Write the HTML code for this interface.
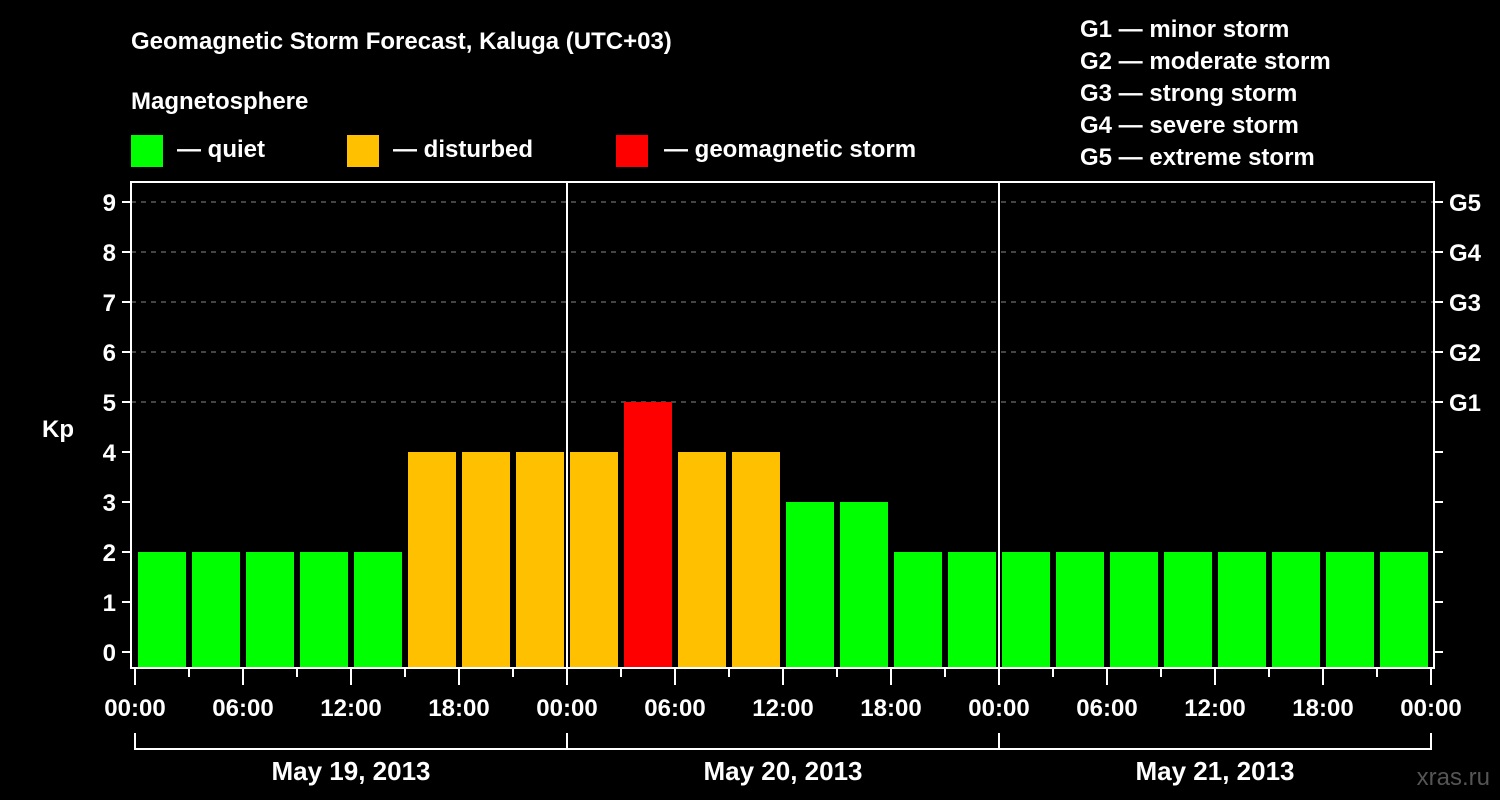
<!DOCTYPE html>
<html><head><meta charset="utf-8"><style>
html,body{margin:0;padding:0;background:#000;}
svg{display:block;font-family:"Liberation Sans",sans-serif;font-weight:bold;}
</style></head><body>
<svg id="c" width="1500" height="800" viewBox="0 0 1500 800">
<rect width="1500" height="800" fill="#000"/>
<text x="131" y="49" fill="#fff" font-size="24">Geomagnetic Storm Forecast, Kaluga (UTC+03)</text>
<text x="131" y="109" fill="#fff" font-size="24">Magnetosphere</text>
<g><rect x="131" y="135" width="32" height="32" fill="#00ff00"/><text x="177" y="157" fill="#fff" font-size="24">— quiet</text></g>
<g><rect x="347" y="135" width="32" height="32" fill="#ffc000"/><text x="393" y="157" fill="#fff" font-size="24">— disturbed</text></g>
<g><rect x="616" y="135" width="32" height="32" fill="#ff0000"/><text x="664" y="157" fill="#fff" font-size="24">— geomagnetic storm</text></g>
<g fill="#fff" font-size="24">
<text x="1080" y="37">G1 — minor storm</text>
<text x="1080" y="69">G2 — moderate storm</text>
<text x="1080" y="101">G3 — strong storm</text>
<text x="1080" y="133">G4 — severe storm</text>
<text x="1080" y="165">G5 — extreme storm</text>
</g>
<text x="42" y="437" fill="#fff" font-size="24">Kp</text>
<text x="1490" y="785" fill="#555" font-size="24" text-anchor="end" font-weight="normal">xras.ru</text>
<g id="plot"></g>
</svg>
<script>
const kpValues=[2,2,2,2,2,4,4,4, 4,5,4,4,3,3,2,2, 2,2,2,2,2,2,2,2];
const dayLabels=["May 19, 2013","May 20, 2013","May 21, 2013"];
const hourLabels=["00:00","06:00","12:00","18:00"];
const yTicks=[0,1,2,3,4,5,6,7,8,9];
const gLabels=["G1","G2","G3","G4","G5"];
const NS="http://www.w3.org/2000/svg";
const g=document.getElementById('plot');
const X0=135,PXH=18,Y0=652,PXK=50,TOP=182,BOT=668,L=131,R=1434;
const xs=h=>X0+h*PXH, ys=k=>Y0-k*PXK;
function mk(t,a,p){const e=document.createElementNS(NS,t);for(const k in a)e.setAttribute(k,a[k]);(p||g).appendChild(e);return e;}
// grid
yTicks.forEach(k=>{
 if(k>=5){const l=mk('line',{x1:L,x2:R,y1:ys(k),y2:ys(k),stroke:'#888','stroke-dasharray':'5,5','stroke-width':1});
 
 }
 const t=mk('line',{x1:L-9,x2:L,y1:ys(k),y2:ys(k),stroke:'#fff','stroke-width':2});
 
 
 const t2=mk('line',{x1:R,x2:R+9,y1:ys(k),y2:ys(k),stroke:'#fff','stroke-width':2});
 
 
 const tx=mk('text',{x:L-15,y:ys(k)+9,fill:'#fff','font-size':24,'text-anchor':'end'});tx.textContent=k;
 
 
});
gLabels.forEach((s,i)=>{
 const tx=mk('text',{x:R+15,y:ys(5+i)+9,fill:'#fff','font-size':24});tx.textContent=s;
 
 
});
// bars
kpValues.forEach((v,i)=>{
 const c=v>=5?'#ff0000':(v>=4?'#ffc000':'#00ff00');
 const b=mk('rect',{x:xs(i*3)+3,y:ys(v),width:3*PXH-6,height:BOT-ys(v),fill:c});
 
 
});
// day separators
for(let d=1;d<dayLabels.length;d++){
 const l=mk('line',{x1:xs(d*24),x2:xs(d*24),y1:TOP,y2:BOT,stroke:'#fff','stroke-width':2});
 
 
}
// frame
const f=mk('rect',{x:L,y:TOP,width:R-L,height:BOT-TOP,fill:'none',stroke:'#fff','stroke-width':2});


// x ticks
for(let h=0;h<=72;h+=3){
 const big=h%6===0;
 const t=mk('line',{x1:xs(h),x2:xs(h),y1:BOT,y2:BOT+(big?17:9),stroke:'#fff','stroke-width':2});
 
 
 if(big){const tx=mk('text',{x:xs(h),y:716,fill:'#fff','font-size':24,'text-anchor':'middle'});tx.textContent=hourLabels[(h/6)%4];
 
 }
}
// day brackets
dayLabels.forEach((s,d)=>{
 const p=mk('path',{d:`M${xs(d*24)},733 V749 H${xs(d*24+24)}`+(d===dayLabels.length-1?` V733`:''),stroke:'#fff','stroke-width':2,fill:'none'});
 
 
 const tx=mk('text',{x:xs(d*24+12),y:780,fill:'#fff','font-size':26,'text-anchor':'middle'});tx.textContent=s;
 
 
});
</script>
</body></html>
